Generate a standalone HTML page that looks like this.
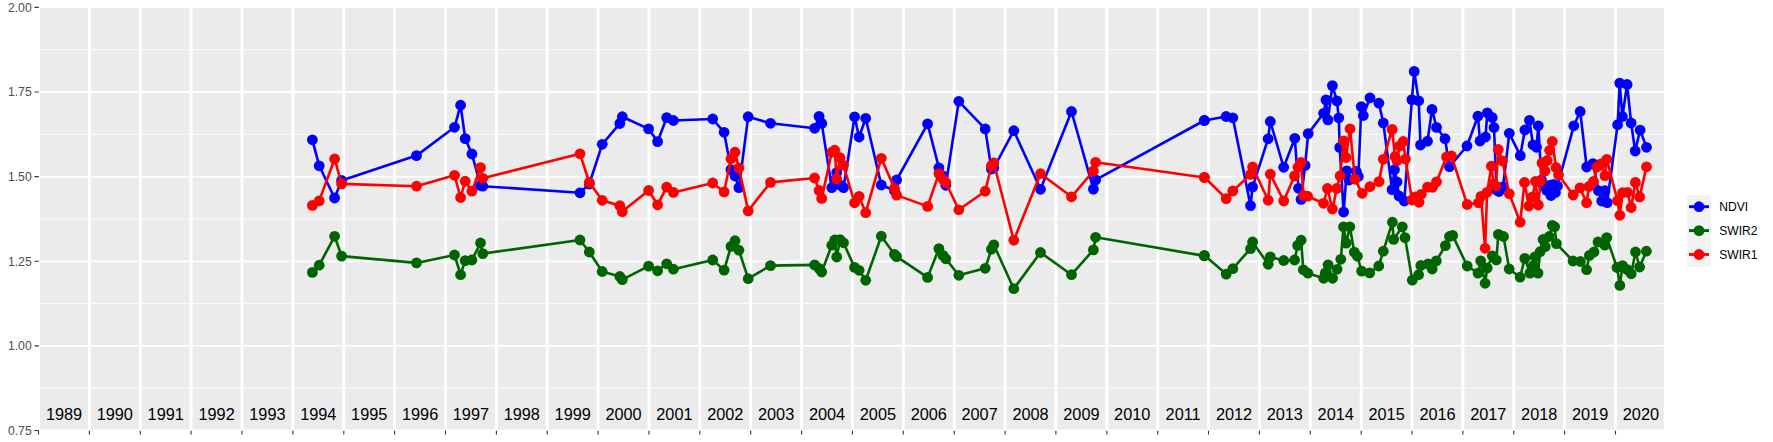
<!DOCTYPE html><html><head><meta charset="utf-8"><style>html,body{margin:0;padding:0;background:#fff;}body{width:1773px;height:442px;overflow:hidden;}svg{display:block;}text{font-family:"Liberation Sans",Arial,Helvetica,sans-serif;}</style></head><body>
<svg width="1773" height="442" viewBox="0 0 1773 442">
<rect x="40" y="8" width="1623.8" height="421.5" fill="#EBEBEB"/>
<path d="M40 388.2H1663.8M40 303.6H1663.8M40 219H1663.8M40 134.3H1663.8M40 49.7H1663.8" stroke="#fff" stroke-width="0.9" fill="none"/>
<path d="M40 345.9H1663.8M40 261.3H1663.8M40 176.6H1663.8M40 92H1663.8" stroke="#fff" stroke-width="1.8" fill="none"/>
<path d="M89.4 8V429.5M140.3 8V429.5M191.1 8V429.5M242 8V429.5M292.9 8V429.5M343.8 8V429.5M394.6 8V429.5M445.5 8V429.5M496.4 8V429.5M547.2 8V429.5M598.1 8V429.5M649 8V429.5M699.8 8V429.5M750.7 8V429.5M801.6 8V429.5M852.4 8V429.5M903.3 8V429.5M954.2 8V429.5M1005.1 8V429.5M1055.9 8V429.5M1106.8 8V429.5M1157.7 8V429.5M1208.5 8V429.5M1259.4 8V429.5M1310.3 8V429.5M1361.2 8V429.5M1412 8V429.5M1462.9 8V429.5M1513.8 8V429.5M1564.6 8V429.5M1615.5 8V429.5" stroke="#fff" stroke-width="2.9" fill="none"/>
<text x="64" y="419.9" font-size="16.3" text-anchor="middle" fill="#000">1989</text>
<text x="114.8" y="419.9" font-size="16.3" text-anchor="middle" fill="#000">1990</text>
<text x="165.7" y="419.9" font-size="16.3" text-anchor="middle" fill="#000">1991</text>
<text x="216.6" y="419.9" font-size="16.3" text-anchor="middle" fill="#000">1992</text>
<text x="267.4" y="419.9" font-size="16.3" text-anchor="middle" fill="#000">1993</text>
<text x="318.3" y="419.9" font-size="16.3" text-anchor="middle" fill="#000">1994</text>
<text x="369.2" y="419.9" font-size="16.3" text-anchor="middle" fill="#000">1995</text>
<text x="420.1" y="419.9" font-size="16.3" text-anchor="middle" fill="#000">1996</text>
<text x="470.9" y="419.9" font-size="16.3" text-anchor="middle" fill="#000">1997</text>
<text x="521.8" y="419.9" font-size="16.3" text-anchor="middle" fill="#000">1998</text>
<text x="572.7" y="419.9" font-size="16.3" text-anchor="middle" fill="#000">1999</text>
<text x="623.5" y="419.9" font-size="16.3" text-anchor="middle" fill="#000">2000</text>
<text x="674.4" y="419.9" font-size="16.3" text-anchor="middle" fill="#000">2001</text>
<text x="725.3" y="419.9" font-size="16.3" text-anchor="middle" fill="#000">2002</text>
<text x="776.1" y="419.9" font-size="16.3" text-anchor="middle" fill="#000">2003</text>
<text x="827" y="419.9" font-size="16.3" text-anchor="middle" fill="#000">2004</text>
<text x="877.9" y="419.9" font-size="16.3" text-anchor="middle" fill="#000">2005</text>
<text x="928.8" y="419.9" font-size="16.3" text-anchor="middle" fill="#000">2006</text>
<text x="979.6" y="419.9" font-size="16.3" text-anchor="middle" fill="#000">2007</text>
<text x="1030.5" y="419.9" font-size="16.3" text-anchor="middle" fill="#000">2008</text>
<text x="1081.4" y="419.9" font-size="16.3" text-anchor="middle" fill="#000">2009</text>
<text x="1132.2" y="419.9" font-size="16.3" text-anchor="middle" fill="#000">2010</text>
<text x="1183.1" y="419.9" font-size="16.3" text-anchor="middle" fill="#000">2011</text>
<text x="1234" y="419.9" font-size="16.3" text-anchor="middle" fill="#000">2012</text>
<text x="1284.8" y="419.9" font-size="16.3" text-anchor="middle" fill="#000">2013</text>
<text x="1335.7" y="419.9" font-size="16.3" text-anchor="middle" fill="#000">2014</text>
<text x="1386.6" y="419.9" font-size="16.3" text-anchor="middle" fill="#000">2015</text>
<text x="1437.5" y="419.9" font-size="16.3" text-anchor="middle" fill="#000">2016</text>
<text x="1488.3" y="419.9" font-size="16.3" text-anchor="middle" fill="#000">2017</text>
<text x="1539.2" y="419.9" font-size="16.3" text-anchor="middle" fill="#000">2018</text>
<text x="1590.1" y="419.9" font-size="16.3" text-anchor="middle" fill="#000">2019</text>
<text x="1640.9" y="419.9" font-size="16.3" text-anchor="middle" fill="#000">2020</text>
<path d="M312.4 139.8 L319.2 165.8 L334.6 198 L341.6 180.5 L416.5 155.6 L454.5 127.3 L460.6 105.2 L465.2 138.6 L471.9 154 L480.5 185.5 L482.8 186.2 L580 192.8 L589.3 184 L602.2 144.3 L619.8 123.5 L622.3 116.7 L648.6 128.9 L657.6 141.6 L666.7 117.6 L673.4 120.5 L712.7 119 L724.1 132.3 L731 169.6 L735 176 L738.9 187.6 L748.2 116.7 L770.5 123.3 L814.6 128.3 L819.1 116.4 L821.7 123.4 L831.8 187.6 L834.7 180 L836.7 172.6 L840 185 L843.5 187.6 L854.6 116.8 L859.1 137 L865.7 118.3 L881.3 185 L894.4 190.5 L896.6 180 L927.6 123.9 L938.9 167.8 L943 176 L945.8 185.3 L958.8 101.3 L985.2 128.9 L991.4 169 L993.8 168 L1013.8 130.7 L1040.5 189.3 L1071.5 111.5 L1093.4 189.1 L1095.6 179.9 L1204.3 120.5 L1204.4 120.5 L1226.1 116.5 L1232.8 117.8 L1250.5 205.6 L1252.6 186.9 L1268.1 138.8 L1270.3 121.5 L1283.7 167.3 L1294.8 138.3 L1298.5 188.3 L1301.1 199.4 L1305.1 165.4 L1308.2 133.6 L1323.6 113.3 L1326 99.9 L1327.9 119.9 L1332.4 85.6 L1336.9 100.9 L1338.8 117.8 L1339.7 147.4 L1343.6 212 L1346.8 170.8 L1349 180 L1356.4 171.5 L1358.4 176.5 L1361.3 106.6 L1363.3 115.5 L1370 97.8 L1378.9 103.2 L1383.3 123 L1392.1 189.6 L1394.5 169.7 L1397 182 L1399 196 L1404.3 201 L1411.9 99.6 L1414.2 71.4 L1418.7 100.8 L1420.5 145 L1427.5 141.2 L1432 109.4 L1436.5 127.4 L1445 138.7 L1449.5 166.7 L1467 146 L1477.9 116.2 L1480 141 L1485.5 137 L1487.3 112.8 L1492.2 117.5 L1494 127.5 L1496.5 190 L1499 191.5 L1503 187 L1509.3 133.3 L1520.3 155.6 L1524.9 130 L1529.4 120.3 L1533 144.8 L1536.5 147.3 L1538.3 125.8 L1541.5 180 L1543.5 186 L1546.8 190.5 L1549.5 185.5 L1551 195.5 L1553.5 184.5 L1555.4 192.5 L1557.5 186 L1573.8 125.8 L1580.2 111.5 L1586.7 167 L1593 163.6 L1598.5 190.7 L1601.7 201 L1604.9 190.7 L1607.2 202.6 L1617.6 124.7 L1619.7 83.1 L1622.4 116.5 L1627.1 84.5 L1631.1 123 L1635.2 151 L1640.1 130.1 L1646.5 147.3" stroke="#0000FF" stroke-width="2.6" fill="none" stroke-linejoin="round" stroke-linecap="butt"/><g fill="#0000FF"><circle cx="312.4" cy="139.8" r="5.4"/><circle cx="319.2" cy="165.8" r="5.4"/><circle cx="334.6" cy="198" r="5.4"/><circle cx="341.6" cy="180.5" r="5.4"/><circle cx="416.5" cy="155.6" r="5.4"/><circle cx="454.5" cy="127.3" r="5.4"/><circle cx="460.6" cy="105.2" r="5.4"/><circle cx="465.2" cy="138.6" r="5.4"/><circle cx="471.9" cy="154" r="5.4"/><circle cx="480.5" cy="185.5" r="5.4"/><circle cx="482.8" cy="186.2" r="5.4"/><circle cx="580" cy="192.8" r="5.4"/><circle cx="589.3" cy="184" r="5.4"/><circle cx="602.2" cy="144.3" r="5.4"/><circle cx="619.8" cy="123.5" r="5.4"/><circle cx="622.3" cy="116.7" r="5.4"/><circle cx="648.6" cy="128.9" r="5.4"/><circle cx="657.6" cy="141.6" r="5.4"/><circle cx="666.7" cy="117.6" r="5.4"/><circle cx="673.4" cy="120.5" r="5.4"/><circle cx="712.7" cy="119" r="5.4"/><circle cx="724.1" cy="132.3" r="5.4"/><circle cx="731" cy="169.6" r="5.4"/><circle cx="735" cy="176" r="5.4"/><circle cx="738.9" cy="187.6" r="5.4"/><circle cx="748.2" cy="116.7" r="5.4"/><circle cx="770.5" cy="123.3" r="5.4"/><circle cx="814.6" cy="128.3" r="5.4"/><circle cx="819.1" cy="116.4" r="5.4"/><circle cx="821.7" cy="123.4" r="5.4"/><circle cx="831.8" cy="187.6" r="5.4"/><circle cx="834.7" cy="180" r="5.4"/><circle cx="836.7" cy="172.6" r="5.4"/><circle cx="840" cy="185" r="5.4"/><circle cx="843.5" cy="187.6" r="5.4"/><circle cx="854.6" cy="116.8" r="5.4"/><circle cx="859.1" cy="137" r="5.4"/><circle cx="865.7" cy="118.3" r="5.4"/><circle cx="881.3" cy="185" r="5.4"/><circle cx="894.4" cy="190.5" r="5.4"/><circle cx="896.6" cy="180" r="5.4"/><circle cx="927.6" cy="123.9" r="5.4"/><circle cx="938.9" cy="167.8" r="5.4"/><circle cx="943" cy="176" r="5.4"/><circle cx="945.8" cy="185.3" r="5.4"/><circle cx="958.8" cy="101.3" r="5.4"/><circle cx="985.2" cy="128.9" r="5.4"/><circle cx="991.4" cy="169" r="5.4"/><circle cx="993.8" cy="168" r="5.4"/><circle cx="1013.8" cy="130.7" r="5.4"/><circle cx="1040.5" cy="189.3" r="5.4"/><circle cx="1071.5" cy="111.5" r="5.4"/><circle cx="1093.4" cy="189.1" r="5.4"/><circle cx="1095.6" cy="179.9" r="5.4"/><circle cx="1204.3" cy="120.5" r="5.4"/><circle cx="1204.4" cy="120.5" r="5.4"/><circle cx="1226.1" cy="116.5" r="5.4"/><circle cx="1232.8" cy="117.8" r="5.4"/><circle cx="1250.5" cy="205.6" r="5.4"/><circle cx="1252.6" cy="186.9" r="5.4"/><circle cx="1268.1" cy="138.8" r="5.4"/><circle cx="1270.3" cy="121.5" r="5.4"/><circle cx="1283.7" cy="167.3" r="5.4"/><circle cx="1294.8" cy="138.3" r="5.4"/><circle cx="1298.5" cy="188.3" r="5.4"/><circle cx="1301.1" cy="199.4" r="5.4"/><circle cx="1305.1" cy="165.4" r="5.4"/><circle cx="1308.2" cy="133.6" r="5.4"/><circle cx="1323.6" cy="113.3" r="5.4"/><circle cx="1326" cy="99.9" r="5.4"/><circle cx="1327.9" cy="119.9" r="5.4"/><circle cx="1332.4" cy="85.6" r="5.4"/><circle cx="1336.9" cy="100.9" r="5.4"/><circle cx="1338.8" cy="117.8" r="5.4"/><circle cx="1339.7" cy="147.4" r="5.4"/><circle cx="1343.6" cy="212" r="5.4"/><circle cx="1346.8" cy="170.8" r="5.4"/><circle cx="1349" cy="180" r="5.4"/><circle cx="1356.4" cy="171.5" r="5.4"/><circle cx="1358.4" cy="176.5" r="5.4"/><circle cx="1361.3" cy="106.6" r="5.4"/><circle cx="1363.3" cy="115.5" r="5.4"/><circle cx="1370" cy="97.8" r="5.4"/><circle cx="1378.9" cy="103.2" r="5.4"/><circle cx="1383.3" cy="123" r="5.4"/><circle cx="1392.1" cy="189.6" r="5.4"/><circle cx="1394.5" cy="169.7" r="5.4"/><circle cx="1397" cy="182" r="5.4"/><circle cx="1399" cy="196" r="5.4"/><circle cx="1404.3" cy="201" r="5.4"/><circle cx="1411.9" cy="99.6" r="5.4"/><circle cx="1414.2" cy="71.4" r="5.4"/><circle cx="1418.7" cy="100.8" r="5.4"/><circle cx="1420.5" cy="145" r="5.4"/><circle cx="1427.5" cy="141.2" r="5.4"/><circle cx="1432" cy="109.4" r="5.4"/><circle cx="1436.5" cy="127.4" r="5.4"/><circle cx="1445" cy="138.7" r="5.4"/><circle cx="1449.5" cy="166.7" r="5.4"/><circle cx="1467" cy="146" r="5.4"/><circle cx="1477.9" cy="116.2" r="5.4"/><circle cx="1480" cy="141" r="5.4"/><circle cx="1485.5" cy="137" r="5.4"/><circle cx="1487.3" cy="112.8" r="5.4"/><circle cx="1492.2" cy="117.5" r="5.4"/><circle cx="1494" cy="127.5" r="5.4"/><circle cx="1496.5" cy="190" r="5.4"/><circle cx="1499" cy="191.5" r="5.4"/><circle cx="1503" cy="187" r="5.4"/><circle cx="1509.3" cy="133.3" r="5.4"/><circle cx="1520.3" cy="155.6" r="5.4"/><circle cx="1524.9" cy="130" r="5.4"/><circle cx="1529.4" cy="120.3" r="5.4"/><circle cx="1533" cy="144.8" r="5.4"/><circle cx="1536.5" cy="147.3" r="5.4"/><circle cx="1538.3" cy="125.8" r="5.4"/><circle cx="1541.5" cy="180" r="5.4"/><circle cx="1543.5" cy="186" r="5.4"/><circle cx="1546.8" cy="190.5" r="5.4"/><circle cx="1549.5" cy="185.5" r="5.4"/><circle cx="1551" cy="195.5" r="5.4"/><circle cx="1553.5" cy="184.5" r="5.4"/><circle cx="1555.4" cy="192.5" r="5.4"/><circle cx="1557.5" cy="186" r="5.4"/><circle cx="1573.8" cy="125.8" r="5.4"/><circle cx="1580.2" cy="111.5" r="5.4"/><circle cx="1586.7" cy="167" r="5.4"/><circle cx="1593" cy="163.6" r="5.4"/><circle cx="1598.5" cy="190.7" r="5.4"/><circle cx="1601.7" cy="201" r="5.4"/><circle cx="1604.9" cy="190.7" r="5.4"/><circle cx="1607.2" cy="202.6" r="5.4"/><circle cx="1617.6" cy="124.7" r="5.4"/><circle cx="1619.7" cy="83.1" r="5.4"/><circle cx="1622.4" cy="116.5" r="5.4"/><circle cx="1627.1" cy="84.5" r="5.4"/><circle cx="1631.1" cy="123" r="5.4"/><circle cx="1635.2" cy="151" r="5.4"/><circle cx="1640.1" cy="130.1" r="5.4"/><circle cx="1646.5" cy="147.3" r="5.4"/></g>
<path d="M312.4 272.4 L319.2 265.2 L334.6 236.3 L341.6 256.1 L416.5 262.9 L454.5 255 L460.6 274.7 L465.2 260.6 L471.9 260 L480.5 243 L482.8 253.6 L580 240 L589.3 252 L602.2 271.5 L619.8 276.5 L622.3 279.6 L648.6 266.1 L657.6 270.8 L666.7 263.8 L673.4 269.2 L712.7 260 L724.1 270.1 L731 246.4 L735 240.7 L738.9 250.2 L748.2 278.7 L770.5 265.6 L814.6 264.9 L819.1 268.5 L821.7 272 L831.8 245.2 L834.7 240 L836.7 257 L840 239.6 L843.5 242.8 L854.6 267.4 L859.1 270.3 L865.7 280.3 L881.3 236.2 L894.4 254.3 L896.6 256.6 L927.6 277.4 L938.9 248.6 L943 255.4 L945.8 258.8 L958.8 275.3 L985.2 268.3 L991.4 249.3 L993.8 244.8 L1013.8 288.7 L1040.5 252.5 L1071.5 274.7 L1093.4 249.9 L1095.6 237.3 L1204.3 255.9 L1204.4 255.3 L1226.2 274.1 L1232.8 268.7 L1250.5 248.7 L1252.6 242 L1268.2 264.3 L1270.3 256.9 L1283.7 260.5 L1294.6 260 L1297.7 245.4 L1301.1 240.2 L1303.3 269.8 L1307.9 273.2 L1323.6 278.3 L1325.4 272.9 L1328.1 264.8 L1332.6 278.3 L1337.1 269.3 L1340.8 259.3 L1343.5 226.8 L1346.2 243.1 L1349.8 226.8 L1354.3 252.1 L1357.4 256.3 L1361.6 271.1 L1369.7 272.9 L1378.8 266 L1383.3 251.2 L1392.4 222.2 L1393.6 239.4 L1402.3 226.8 L1405 237.6 L1412.3 280.2 L1418.6 274.7 L1420.8 265.5 L1428.1 264 L1432.2 269 L1436.3 260.9 L1445.4 245.6 L1449.5 236.5 L1452.6 235.4 L1467.2 266 L1478 273.1 L1480.7 260.9 L1485.1 283.3 L1487.2 268 L1492.3 255.8 L1496.3 259.9 L1498.4 234.4 L1503.5 236.5 L1509.2 269 L1520.1 277.2 L1524.8 258.4 L1529.9 273.1 L1533 266 L1535 256.8 L1538 273.1 L1540.1 251.7 L1543.1 239.5 L1545.2 246.6 L1549.2 236.5 L1552.3 225.3 L1554.6 226.8 L1556.4 243.6 L1573 261 L1580.4 261.5 L1586.6 269.7 L1589.3 255.5 L1594 252 L1598 242 L1604.8 245.2 L1606.7 237.6 L1617 267.5 L1619.8 285.4 L1622.5 265.6 L1627.4 269.7 L1631.2 273.8 L1635.5 252 L1639.6 267 L1646.4 251.2" stroke="#006400" stroke-width="2.6" fill="none" stroke-linejoin="round" stroke-linecap="butt"/><g fill="#006400"><circle cx="312.4" cy="272.4" r="5.4"/><circle cx="319.2" cy="265.2" r="5.4"/><circle cx="334.6" cy="236.3" r="5.4"/><circle cx="341.6" cy="256.1" r="5.4"/><circle cx="416.5" cy="262.9" r="5.4"/><circle cx="454.5" cy="255" r="5.4"/><circle cx="460.6" cy="274.7" r="5.4"/><circle cx="465.2" cy="260.6" r="5.4"/><circle cx="471.9" cy="260" r="5.4"/><circle cx="480.5" cy="243" r="5.4"/><circle cx="482.8" cy="253.6" r="5.4"/><circle cx="580" cy="240" r="5.4"/><circle cx="589.3" cy="252" r="5.4"/><circle cx="602.2" cy="271.5" r="5.4"/><circle cx="619.8" cy="276.5" r="5.4"/><circle cx="622.3" cy="279.6" r="5.4"/><circle cx="648.6" cy="266.1" r="5.4"/><circle cx="657.6" cy="270.8" r="5.4"/><circle cx="666.7" cy="263.8" r="5.4"/><circle cx="673.4" cy="269.2" r="5.4"/><circle cx="712.7" cy="260" r="5.4"/><circle cx="724.1" cy="270.1" r="5.4"/><circle cx="731" cy="246.4" r="5.4"/><circle cx="735" cy="240.7" r="5.4"/><circle cx="738.9" cy="250.2" r="5.4"/><circle cx="748.2" cy="278.7" r="5.4"/><circle cx="770.5" cy="265.6" r="5.4"/><circle cx="814.6" cy="264.9" r="5.4"/><circle cx="819.1" cy="268.5" r="5.4"/><circle cx="821.7" cy="272" r="5.4"/><circle cx="831.8" cy="245.2" r="5.4"/><circle cx="834.7" cy="240" r="5.4"/><circle cx="836.7" cy="257" r="5.4"/><circle cx="840" cy="239.6" r="5.4"/><circle cx="843.5" cy="242.8" r="5.4"/><circle cx="854.6" cy="267.4" r="5.4"/><circle cx="859.1" cy="270.3" r="5.4"/><circle cx="865.7" cy="280.3" r="5.4"/><circle cx="881.3" cy="236.2" r="5.4"/><circle cx="894.4" cy="254.3" r="5.4"/><circle cx="896.6" cy="256.6" r="5.4"/><circle cx="927.6" cy="277.4" r="5.4"/><circle cx="938.9" cy="248.6" r="5.4"/><circle cx="943" cy="255.4" r="5.4"/><circle cx="945.8" cy="258.8" r="5.4"/><circle cx="958.8" cy="275.3" r="5.4"/><circle cx="985.2" cy="268.3" r="5.4"/><circle cx="991.4" cy="249.3" r="5.4"/><circle cx="993.8" cy="244.8" r="5.4"/><circle cx="1013.8" cy="288.7" r="5.4"/><circle cx="1040.5" cy="252.5" r="5.4"/><circle cx="1071.5" cy="274.7" r="5.4"/><circle cx="1093.4" cy="249.9" r="5.4"/><circle cx="1095.6" cy="237.3" r="5.4"/><circle cx="1204.3" cy="255.9" r="5.4"/><circle cx="1204.4" cy="255.3" r="5.4"/><circle cx="1226.2" cy="274.1" r="5.4"/><circle cx="1232.8" cy="268.7" r="5.4"/><circle cx="1250.5" cy="248.7" r="5.4"/><circle cx="1252.6" cy="242" r="5.4"/><circle cx="1268.2" cy="264.3" r="5.4"/><circle cx="1270.3" cy="256.9" r="5.4"/><circle cx="1283.7" cy="260.5" r="5.4"/><circle cx="1294.6" cy="260" r="5.4"/><circle cx="1297.7" cy="245.4" r="5.4"/><circle cx="1301.1" cy="240.2" r="5.4"/><circle cx="1303.3" cy="269.8" r="5.4"/><circle cx="1307.9" cy="273.2" r="5.4"/><circle cx="1323.6" cy="278.3" r="5.4"/><circle cx="1325.4" cy="272.9" r="5.4"/><circle cx="1328.1" cy="264.8" r="5.4"/><circle cx="1332.6" cy="278.3" r="5.4"/><circle cx="1337.1" cy="269.3" r="5.4"/><circle cx="1340.8" cy="259.3" r="5.4"/><circle cx="1343.5" cy="226.8" r="5.4"/><circle cx="1346.2" cy="243.1" r="5.4"/><circle cx="1349.8" cy="226.8" r="5.4"/><circle cx="1354.3" cy="252.1" r="5.4"/><circle cx="1357.4" cy="256.3" r="5.4"/><circle cx="1361.6" cy="271.1" r="5.4"/><circle cx="1369.7" cy="272.9" r="5.4"/><circle cx="1378.8" cy="266" r="5.4"/><circle cx="1383.3" cy="251.2" r="5.4"/><circle cx="1392.4" cy="222.2" r="5.4"/><circle cx="1393.6" cy="239.4" r="5.4"/><circle cx="1402.3" cy="226.8" r="5.4"/><circle cx="1405" cy="237.6" r="5.4"/><circle cx="1412.3" cy="280.2" r="5.4"/><circle cx="1418.6" cy="274.7" r="5.4"/><circle cx="1420.8" cy="265.5" r="5.4"/><circle cx="1428.1" cy="264" r="5.4"/><circle cx="1432.2" cy="269" r="5.4"/><circle cx="1436.3" cy="260.9" r="5.4"/><circle cx="1445.4" cy="245.6" r="5.4"/><circle cx="1449.5" cy="236.5" r="5.4"/><circle cx="1452.6" cy="235.4" r="5.4"/><circle cx="1467.2" cy="266" r="5.4"/><circle cx="1478" cy="273.1" r="5.4"/><circle cx="1480.7" cy="260.9" r="5.4"/><circle cx="1485.1" cy="283.3" r="5.4"/><circle cx="1487.2" cy="268" r="5.4"/><circle cx="1492.3" cy="255.8" r="5.4"/><circle cx="1496.3" cy="259.9" r="5.4"/><circle cx="1498.4" cy="234.4" r="5.4"/><circle cx="1503.5" cy="236.5" r="5.4"/><circle cx="1509.2" cy="269" r="5.4"/><circle cx="1520.1" cy="277.2" r="5.4"/><circle cx="1524.8" cy="258.4" r="5.4"/><circle cx="1529.9" cy="273.1" r="5.4"/><circle cx="1533" cy="266" r="5.4"/><circle cx="1535" cy="256.8" r="5.4"/><circle cx="1538" cy="273.1" r="5.4"/><circle cx="1540.1" cy="251.7" r="5.4"/><circle cx="1543.1" cy="239.5" r="5.4"/><circle cx="1545.2" cy="246.6" r="5.4"/><circle cx="1549.2" cy="236.5" r="5.4"/><circle cx="1552.3" cy="225.3" r="5.4"/><circle cx="1554.6" cy="226.8" r="5.4"/><circle cx="1556.4" cy="243.6" r="5.4"/><circle cx="1573" cy="261" r="5.4"/><circle cx="1580.4" cy="261.5" r="5.4"/><circle cx="1586.6" cy="269.7" r="5.4"/><circle cx="1589.3" cy="255.5" r="5.4"/><circle cx="1594" cy="252" r="5.4"/><circle cx="1598" cy="242" r="5.4"/><circle cx="1604.8" cy="245.2" r="5.4"/><circle cx="1606.7" cy="237.6" r="5.4"/><circle cx="1617" cy="267.5" r="5.4"/><circle cx="1619.8" cy="285.4" r="5.4"/><circle cx="1622.5" cy="265.6" r="5.4"/><circle cx="1627.4" cy="269.7" r="5.4"/><circle cx="1631.2" cy="273.8" r="5.4"/><circle cx="1635.5" cy="252" r="5.4"/><circle cx="1639.6" cy="267" r="5.4"/><circle cx="1646.4" cy="251.2" r="5.4"/></g>
<path d="M312.4 205.4 L319.2 200.9 L334.6 159 L341.6 183.9 L416.5 186.2 L454.5 175.3 L460.6 197.5 L465.2 181.2 L471.9 191.2 L480.5 167.6 L482.8 178.3 L580 153.8 L589.3 182.5 L602.2 200.3 L619.8 205.7 L622.3 211.6 L648.6 190.5 L657.6 204.8 L666.7 187.1 L673.4 192.4 L712.7 183 L724.1 191.9 L731 158.7 L735 152.2 L738.9 168 L748.2 210.9 L770.5 182.4 L814.6 178 L819.1 190.5 L821.7 198.4 L831.8 152.2 L834.7 150.2 L836.7 178.9 L840 157.7 L843.5 165.3 L854.6 202.8 L859.1 196.3 L865.7 212.7 L881.3 158.3 L894.4 188.3 L896.6 195.1 L927.6 206.4 L938.9 173.6 L943 179.3 L945.8 182.5 L958.8 209.8 L985.2 191.2 L991.4 165.7 L993.8 163 L1013.8 240.3 L1040.5 173.7 L1071.5 196.8 L1093.4 171 L1095.6 162.3 L1204.3 177.5 L1204.4 177.3 L1226.2 198.6 L1232.8 191 L1250.5 174.4 L1252.6 167 L1268.2 200.2 L1270.3 174.2 L1283.7 200.9 L1294.5 176 L1298 167.2 L1301.1 162.5 L1303.5 195.5 L1307.6 196.2 L1323.5 203.3 L1327.5 188.5 L1332.4 209 L1336.8 188.5 L1340.1 175.8 L1343.6 141 L1346 157.5 L1350 128.8 L1355 179.3 L1362.2 193.3 L1369.9 186.7 L1379 181.6 L1383.3 159.3 L1392.1 129.4 L1395 156.5 L1397 160.7 L1399.6 146 L1403.2 141.5 L1405.5 159 L1412 200 L1415 197 L1419 202.3 L1421.2 194.3 L1427.5 187.1 L1432.5 187.3 L1436.5 181.8 L1446.5 157 L1451.5 156 L1467.2 204.5 L1478.5 202.8 L1481 196.3 L1485.1 248.3 L1487.1 192.3 L1491.4 166.1 L1493.6 184 L1496 186 L1498.3 149.5 L1502.5 161 L1509.3 193.8 L1520.2 222.2 L1524.5 182.5 L1528.8 206 L1532.5 197 L1535.4 181.3 L1538.3 205 L1540.5 181.3 L1542 163 L1545 171 L1547.2 160.5 L1549.6 150.3 L1552.3 141.5 L1556 167.5 L1558.5 174.8 L1573.2 195 L1580 187.8 L1586.6 202.8 L1589 186.4 L1593.5 181.5 L1596.9 167 L1600.9 163.8 L1604.9 175.7 L1606.8 159.3 L1617.5 200.7 L1619.8 215.3 L1622.5 192.7 L1627.5 192.3 L1631.1 207.5 L1635.4 182.4 L1639.6 196.9 L1646.5 166.8" stroke="#FF0000" stroke-width="2.6" fill="none" stroke-linejoin="round" stroke-linecap="butt"/><g fill="#FF0000"><circle cx="312.4" cy="205.4" r="5.4"/><circle cx="319.2" cy="200.9" r="5.4"/><circle cx="334.6" cy="159" r="5.4"/><circle cx="341.6" cy="183.9" r="5.4"/><circle cx="416.5" cy="186.2" r="5.4"/><circle cx="454.5" cy="175.3" r="5.4"/><circle cx="460.6" cy="197.5" r="5.4"/><circle cx="465.2" cy="181.2" r="5.4"/><circle cx="471.9" cy="191.2" r="5.4"/><circle cx="480.5" cy="167.6" r="5.4"/><circle cx="482.8" cy="178.3" r="5.4"/><circle cx="580" cy="153.8" r="5.4"/><circle cx="589.3" cy="182.5" r="5.4"/><circle cx="602.2" cy="200.3" r="5.4"/><circle cx="619.8" cy="205.7" r="5.4"/><circle cx="622.3" cy="211.6" r="5.4"/><circle cx="648.6" cy="190.5" r="5.4"/><circle cx="657.6" cy="204.8" r="5.4"/><circle cx="666.7" cy="187.1" r="5.4"/><circle cx="673.4" cy="192.4" r="5.4"/><circle cx="712.7" cy="183" r="5.4"/><circle cx="724.1" cy="191.9" r="5.4"/><circle cx="731" cy="158.7" r="5.4"/><circle cx="735" cy="152.2" r="5.4"/><circle cx="738.9" cy="168" r="5.4"/><circle cx="748.2" cy="210.9" r="5.4"/><circle cx="770.5" cy="182.4" r="5.4"/><circle cx="814.6" cy="178" r="5.4"/><circle cx="819.1" cy="190.5" r="5.4"/><circle cx="821.7" cy="198.4" r="5.4"/><circle cx="831.8" cy="152.2" r="5.4"/><circle cx="834.7" cy="150.2" r="5.4"/><circle cx="836.7" cy="178.9" r="5.4"/><circle cx="840" cy="157.7" r="5.4"/><circle cx="843.5" cy="165.3" r="5.4"/><circle cx="854.6" cy="202.8" r="5.4"/><circle cx="859.1" cy="196.3" r="5.4"/><circle cx="865.7" cy="212.7" r="5.4"/><circle cx="881.3" cy="158.3" r="5.4"/><circle cx="894.4" cy="188.3" r="5.4"/><circle cx="896.6" cy="195.1" r="5.4"/><circle cx="927.6" cy="206.4" r="5.4"/><circle cx="938.9" cy="173.6" r="5.4"/><circle cx="943" cy="179.3" r="5.4"/><circle cx="945.8" cy="182.5" r="5.4"/><circle cx="958.8" cy="209.8" r="5.4"/><circle cx="985.2" cy="191.2" r="5.4"/><circle cx="991.4" cy="165.7" r="5.4"/><circle cx="993.8" cy="163" r="5.4"/><circle cx="1013.8" cy="240.3" r="5.4"/><circle cx="1040.5" cy="173.7" r="5.4"/><circle cx="1071.5" cy="196.8" r="5.4"/><circle cx="1093.4" cy="171" r="5.4"/><circle cx="1095.6" cy="162.3" r="5.4"/><circle cx="1204.3" cy="177.5" r="5.4"/><circle cx="1204.4" cy="177.3" r="5.4"/><circle cx="1226.2" cy="198.6" r="5.4"/><circle cx="1232.8" cy="191" r="5.4"/><circle cx="1250.5" cy="174.4" r="5.4"/><circle cx="1252.6" cy="167" r="5.4"/><circle cx="1268.2" cy="200.2" r="5.4"/><circle cx="1270.3" cy="174.2" r="5.4"/><circle cx="1283.7" cy="200.9" r="5.4"/><circle cx="1294.5" cy="176" r="5.4"/><circle cx="1298" cy="167.2" r="5.4"/><circle cx="1301.1" cy="162.5" r="5.4"/><circle cx="1303.5" cy="195.5" r="5.4"/><circle cx="1307.6" cy="196.2" r="5.4"/><circle cx="1323.5" cy="203.3" r="5.4"/><circle cx="1327.5" cy="188.5" r="5.4"/><circle cx="1332.4" cy="209" r="5.4"/><circle cx="1336.8" cy="188.5" r="5.4"/><circle cx="1340.1" cy="175.8" r="5.4"/><circle cx="1343.6" cy="141" r="5.4"/><circle cx="1346" cy="157.5" r="5.4"/><circle cx="1350" cy="128.8" r="5.4"/><circle cx="1355" cy="179.3" r="5.4"/><circle cx="1362.2" cy="193.3" r="5.4"/><circle cx="1369.9" cy="186.7" r="5.4"/><circle cx="1379" cy="181.6" r="5.4"/><circle cx="1383.3" cy="159.3" r="5.4"/><circle cx="1392.1" cy="129.4" r="5.4"/><circle cx="1395" cy="156.5" r="5.4"/><circle cx="1397" cy="160.7" r="5.4"/><circle cx="1399.6" cy="146" r="5.4"/><circle cx="1403.2" cy="141.5" r="5.4"/><circle cx="1405.5" cy="159" r="5.4"/><circle cx="1412" cy="200" r="5.4"/><circle cx="1415" cy="197" r="5.4"/><circle cx="1419" cy="202.3" r="5.4"/><circle cx="1421.2" cy="194.3" r="5.4"/><circle cx="1427.5" cy="187.1" r="5.4"/><circle cx="1432.5" cy="187.3" r="5.4"/><circle cx="1436.5" cy="181.8" r="5.4"/><circle cx="1446.5" cy="157" r="5.4"/><circle cx="1451.5" cy="156" r="5.4"/><circle cx="1467.2" cy="204.5" r="5.4"/><circle cx="1478.5" cy="202.8" r="5.4"/><circle cx="1481" cy="196.3" r="5.4"/><circle cx="1485.1" cy="248.3" r="5.4"/><circle cx="1487.1" cy="192.3" r="5.4"/><circle cx="1491.4" cy="166.1" r="5.4"/><circle cx="1493.6" cy="184" r="5.4"/><circle cx="1496" cy="186" r="5.4"/><circle cx="1498.3" cy="149.5" r="5.4"/><circle cx="1502.5" cy="161" r="5.4"/><circle cx="1509.3" cy="193.8" r="5.4"/><circle cx="1520.2" cy="222.2" r="5.4"/><circle cx="1524.5" cy="182.5" r="5.4"/><circle cx="1528.8" cy="206" r="5.4"/><circle cx="1532.5" cy="197" r="5.4"/><circle cx="1535.4" cy="181.3" r="5.4"/><circle cx="1538.3" cy="205" r="5.4"/><circle cx="1540.5" cy="181.3" r="5.4"/><circle cx="1542" cy="163" r="5.4"/><circle cx="1545" cy="171" r="5.4"/><circle cx="1547.2" cy="160.5" r="5.4"/><circle cx="1549.6" cy="150.3" r="5.4"/><circle cx="1552.3" cy="141.5" r="5.4"/><circle cx="1556" cy="167.5" r="5.4"/><circle cx="1558.5" cy="174.8" r="5.4"/><circle cx="1573.2" cy="195" r="5.4"/><circle cx="1580" cy="187.8" r="5.4"/><circle cx="1586.6" cy="202.8" r="5.4"/><circle cx="1589" cy="186.4" r="5.4"/><circle cx="1593.5" cy="181.5" r="5.4"/><circle cx="1596.9" cy="167" r="5.4"/><circle cx="1600.9" cy="163.8" r="5.4"/><circle cx="1604.9" cy="175.7" r="5.4"/><circle cx="1606.8" cy="159.3" r="5.4"/><circle cx="1617.5" cy="200.7" r="5.4"/><circle cx="1619.8" cy="215.3" r="5.4"/><circle cx="1622.5" cy="192.7" r="5.4"/><circle cx="1627.5" cy="192.3" r="5.4"/><circle cx="1631.1" cy="207.5" r="5.4"/><circle cx="1635.4" cy="182.4" r="5.4"/><circle cx="1639.6" cy="196.9" r="5.4"/><circle cx="1646.5" cy="166.8" r="5.4"/></g>
<text x="31.7" y="434.9" font-size="12.2" text-anchor="end" fill="#4D4D4D">0.75</text>
<text x="31.7" y="350.2" font-size="12.2" text-anchor="end" fill="#4D4D4D">1.00</text>
<text x="31.7" y="265.6" font-size="12.2" text-anchor="end" fill="#4D4D4D">1.25</text>
<text x="31.7" y="181" font-size="12.2" text-anchor="end" fill="#4D4D4D">1.50</text>
<text x="31.7" y="96.4" font-size="12.2" text-anchor="end" fill="#4D4D4D">1.75</text>
<text x="31.7" y="11.7" font-size="12.2" text-anchor="end" fill="#4D4D4D">2.00</text>
<path d="M34.6 430.5H38.8M34.6 345.9H38.8M34.6 261.3H38.8M34.6 176.6H38.8M34.6 92H38.8M34.6 7.4H38.8M38.5 430.8V434.4M89.4 430.8V434.4M140.3 430.8V434.4M191.1 430.8V434.4M242 430.8V434.4M292.9 430.8V434.4M343.8 430.8V434.4M394.6 430.8V434.4M445.5 430.8V434.4M496.4 430.8V434.4M547.2 430.8V434.4M598.1 430.8V434.4M649 430.8V434.4M699.8 430.8V434.4M750.7 430.8V434.4M801.6 430.8V434.4M852.4 430.8V434.4M903.3 430.8V434.4M954.2 430.8V434.4M1005.1 430.8V434.4M1055.9 430.8V434.4M1106.8 430.8V434.4M1157.7 430.8V434.4M1208.5 430.8V434.4M1259.4 430.8V434.4M1310.3 430.8V434.4M1361.2 430.8V434.4M1412 430.8V434.4M1462.9 430.8V434.4M1513.8 430.8V434.4M1564.6 430.8V434.4M1615.5 430.8V434.4" stroke="#333333" stroke-width="1.1" fill="none"/>
<rect x="1687" y="195.1" width="24" height="71.8" fill="#F2F2F2"/>
<path d="M1689 206.7H1709" stroke="#0000FF" stroke-width="2.9"/>
<circle cx="1699" cy="206.7" r="5.4" fill="#0000FF"/>
<text x="1719.2" y="210.7" font-size="12.1" fill="#000">NDVI</text>
<path d="M1689 230.6H1709" stroke="#006400" stroke-width="2.9"/>
<circle cx="1699" cy="230.6" r="5.4" fill="#006400"/>
<text x="1719.2" y="234.6" font-size="12.1" fill="#000">SWIR2</text>
<path d="M1689 254.5H1709" stroke="#FF0000" stroke-width="2.9"/>
<circle cx="1699" cy="254.5" r="5.4" fill="#FF0000"/>
<text x="1719.2" y="258.5" font-size="12.1" fill="#000">SWIR1</text>
</svg></body></html>
